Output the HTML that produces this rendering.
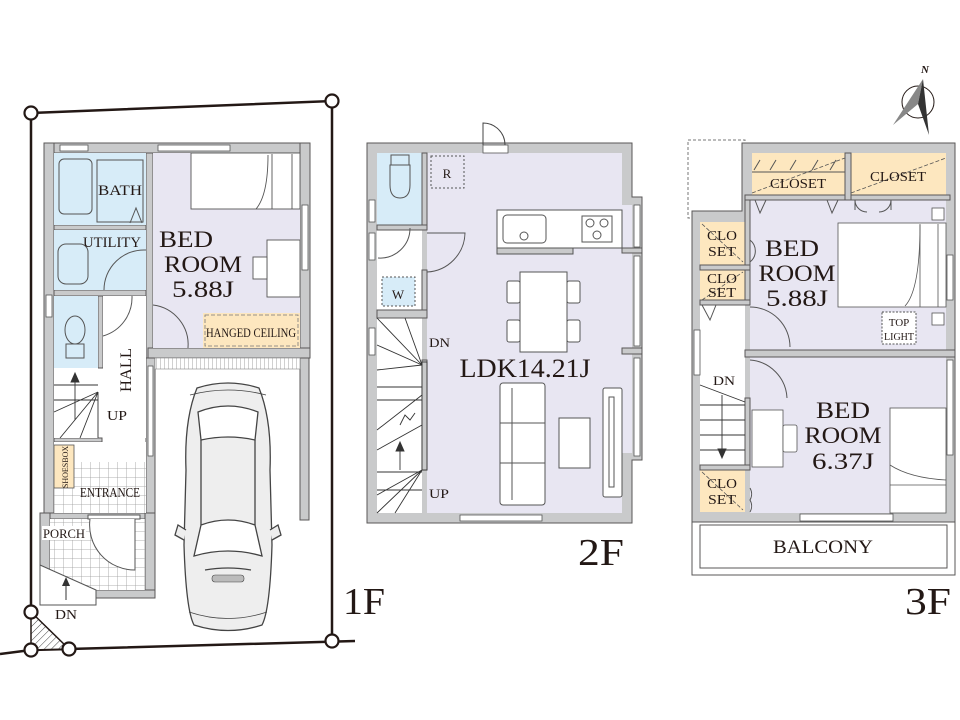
<!DOCTYPE html>
<html><head><meta charset="utf-8"><style>
html,body{margin:0;padding:0;background:#fff;}
svg{display:block;}
text{font-family:"Liberation Serif",serif;fill:#231815;}
</style></head><body>
<svg width="960" height="720" viewBox="0 0 960 720" xmlns="http://www.w3.org/2000/svg">
<defs>
<pattern id="tile" width="9" height="9" patternUnits="userSpaceOnUse"><rect width="9" height="9" fill="#fff"/><path d="M0 0H9M0 0V9" stroke="#999" stroke-width="0.8"/></pattern>
<pattern id="hatch" width="5" height="5" patternUnits="userSpaceOnUse" patternTransform="rotate(45)"><rect width="5" height="5" fill="#fff"/><path d="M0 0V5" stroke="#444" stroke-width="1"/></pattern>
<pattern id="vstripe" width="4" height="10" patternUnits="userSpaceOnUse"><rect width="4" height="10" fill="#fff"/><path d="M0 0V10" stroke="#888" stroke-width="0.8"/></pattern>
</defs>

<!-- ========== 1F ========== -->
<g stroke="#231815" stroke-width="2.5" fill="none">
<path d="M31 113 L332 101 L332 641"/>
<path d="M31 113 L31 612"/>
<path d="M0 654 L31 650 L69 649 L355 641"/>
</g>
<path d="M31 612 L31 650 L69 649 Z" fill="url(#hatch)" stroke="#231815" stroke-width="1.5"/>
<g fill="#fff" stroke="#231815" stroke-width="2.2">
<circle cx="31" cy="113" r="6.5"/><circle cx="332" cy="101" r="6.5"/>
<circle cx="31" cy="612" r="6.5"/><circle cx="31" cy="650" r="6.5"/><circle cx="69" cy="649" r="6.5"/><circle cx="332" cy="641" r="6.5"/>
</g>

<g fill="#c9cacb" stroke="#595757" stroke-width="1">
<rect x="44" y="143" width="266" height="10"/>
<rect x="44" y="143" width="10" height="370"/>
<rect x="300" y="143" width="10" height="215"/>
<rect x="146" y="153" width="7" height="205"/>
<rect x="148" y="348" width="162" height="10"/>
<rect x="300" y="358" width="9" height="162"/>
<rect x="54" y="225" width="92" height="5"/>
<rect x="54" y="290" width="92" height="6"/>
<rect x="98" y="296" width="5" height="72"/>
<rect x="146" y="358" width="9" height="160"/>
<rect x="54" y="438" width="48" height="4"/>
<rect x="40" y="513" width="115" height="6"/>
<rect x="40" y="513" width="10" height="92"/>
<rect x="145" y="513" width="10" height="83"/>
<rect x="96" y="590" width="59" height="8"/>
</g>
<rect x="54" y="153" width="92" height="72" fill="#d7ecf8"/>
<rect x="54" y="230" width="92" height="60" fill="#d7ecf8"/>
<rect x="54" y="296" width="44" height="72" fill="#d7ecf8"/>
<rect x="153" y="153" width="147" height="195" fill="#e8e6f2"/>
<rect x="203" y="313" width="97" height="35" fill="#fde7bf"/>
<rect x="103" y="296" width="43" height="142" fill="#fff"/>
<rect x="54" y="368" width="44" height="70" fill="#fff"/>
<rect x="54" y="462" width="92" height="51" fill="url(#tile)"/>
<rect x="54" y="442" width="92" height="20" fill="#fff"/>
<rect x="50" y="519" width="95" height="71" fill="url(#tile)"/>
<rect x="155" y="358" width="145" height="11" fill="url(#vstripe)" stroke="#888" stroke-width="0.6"/>
<rect x="54" y="445" width="20" height="43" fill="#fde7bf" stroke="#555" stroke-width="0.8"/>
<g fill="#fff" stroke="#555" stroke-width="0.8">
<rect x="60" y="145" width="28" height="6"/><rect x="158" y="145" width="72" height="6"/>
<rect x="302" y="205" width="6" height="65"/><rect x="46" y="295" width="6" height="22"/>
<rect x="148" y="366" width="5" height="90"/>
</g>
<g fill="none" stroke="#555" stroke-width="1">
<rect x="59" y="159" width="33" height="55" rx="5"/>
<rect x="97" y="160" width="46" height="62"/>
<rect x="58" y="244" width="30" height="40" rx="8"/>
<ellipse cx="75" cy="330" rx="10" ry="14"/><rect x="66" y="344" width="18" height="14"/>
<path d="M130 223 L136 208 L142 223"/>
<path d="M104 290 A40 40 0 0 1 146 250"/><path d="M103 336 A40 40 0 0 0 132 296"/>
<path d="M153 305 A40 40 0 0 1 188 348"/>
</g>
<g fill="#fff" stroke="#555" stroke-width="0.9">
<rect x="191" y="153" width="109" height="56"/><path d="M272 154 V209 M292 154 V209"/><path d="M268 155 Q268 195 256 209" fill="none"/>
<rect x="267" y="240" width="33" height="57"/><rect x="253" y="257" width="14" height="22"/>
</g>
<path d="M205 315 H298 V346 H205 Z" fill="none" stroke="#777" stroke-width="0.8" stroke-dasharray="4 2"/>
<text x="186" y="247" font-size="23" text-anchor="middle" textLength="54" lengthAdjust="spacingAndGlyphs">BED</text>
<text x="203" y="272" font-size="23" text-anchor="middle" textLength="78" lengthAdjust="spacingAndGlyphs">ROOM</text>
<text x="203" y="297" font-size="23" text-anchor="middle" textLength="62" lengthAdjust="spacingAndGlyphs">5.88J</text>
<text x="120" y="195" font-size="15" text-anchor="middle" textLength="44" lengthAdjust="spacingAndGlyphs">BATH</text>
<text x="112" y="247" font-size="15" text-anchor="middle" textLength="58" lengthAdjust="spacingAndGlyphs">UTILITY</text>
<text x="251" y="337" font-size="13" text-anchor="middle" textLength="90" lengthAdjust="spacingAndGlyphs">HANGED CEILING</text>
<text transform="translate(131,370) rotate(-90)" font-size="16" text-anchor="middle" textLength="44" lengthAdjust="spacingAndGlyphs">HALL</text>
<g stroke="#333" stroke-width="0.9" fill="none">
<path d="M54 385 H98 M54 400 H98"/>
<path d="M98 392 L54 412 M98 392 L60 438 M98 392 L80 438 M98 392 L98 438"/>
<path d="M75 420 V376"/><path d="M71 382 L75 373 L79 382Z" fill="#333"/>
</g>
<text x="107" y="420" font-size="14" textLength="20" lengthAdjust="spacingAndGlyphs">UP</text>
<text transform="translate(68,467) rotate(-90)" font-size="8" text-anchor="middle">SHOESBOX</text>
<text x="80" y="497" font-size="14" textLength="60" lengthAdjust="spacingAndGlyphs">ENTRANCE</text>
<rect x="42" y="526" width="44" height="14" fill="#fff"/>
<text x="43" y="538" font-size="13" textLength="42" lengthAdjust="spacingAndGlyphs">PORCH</text>
<rect x="88" y="515" width="52" height="4" fill="#fff" stroke="#555"/>
<path d="M90 519 A45 45 0 0 0 135 570 L135 519" fill="#fff" stroke="#555"/>
<path d="M40 565 L96 590 V605 H40 Z" fill="#fff" stroke="#555"/>
<path d="M66 600 V580" stroke="#333"/><path d="M62 586 L66 577 L70 586Z" fill="#333"/>
<text x="55" y="619" font-size="14" textLength="22" lengthAdjust="spacingAndGlyphs">DN</text>
<g stroke="#444" stroke-width="1.3">
<path d="M197 388 Q228 378 259 388 Q272 420 270 470 L272 545 Q270 610 262 625 Q228 636 194 625 Q186 610 184 545 L186 470 Q184 420 197 388Z" fill="#eeeeee"/>
<path d="M198 412 Q228 400 258 412 L255 440 Q228 434 201 440 Z" fill="#fff"/>
<path d="M201 525 Q228 515 255 525 L262 556 Q228 546 194 556 Z" fill="#fff"/>
<path d="M205 570 Q228 566 251 570" fill="none"/>
<path d="M184 540 L175 535 L178 525 L186 530" fill="#eee"/><path d="M272 540 L281 535 L278 525 L270 530" fill="#eee"/>
<path d="M201 440 L201 525 M255 440 L255 525" fill="none"/>
<path d="M190 395 Q228 385 266 395 M189 612 Q228 625 267 612" fill="none" stroke-width="0.8"/>
<rect x="212" y="575" width="32" height="7" rx="3" fill="#bbb" stroke-width="0.6"/>
</g>
<text x="343" y="614" font-size="38" textLength="42" lengthAdjust="spacingAndGlyphs">1F</text>

<!-- ========== 2F ========== -->
<g fill="#c9cacb" stroke="#595757" stroke-width="1">
<path d="M367 143 H632 V197 H642 V460 H632 V523 H367 Z"/>
</g>
<rect x="427" y="153" width="195" height="360" fill="#e8e6f2"/>
<rect x="622" y="205" width="10" height="248" fill="#e8e6f2"/>
<rect x="377" y="153" width="45" height="72" fill="#d7ecf8"/>
<rect x="377" y="230" width="45" height="80" fill="#fff"/>
<rect x="382" y="277" width="33" height="29" fill="#d7ecf8" stroke="#555" stroke-dasharray="2 2"/>
<rect x="377" y="318" width="45" height="195" fill="#fff"/>
<g fill="#c9cacb" stroke="#595757" stroke-width="1">
<rect x="422" y="153" width="5" height="72"/><rect x="377" y="225" width="50" height="5"/>
<rect x="422" y="270" width="5" height="43"/><rect x="377" y="310" width="50" height="8"/>
<rect x="422" y="360" width="5" height="110"/>
<rect x="622" y="248" width="20" height="5"/><rect x="622" y="348" width="20" height="6"/>
</g>
<g fill="#fff" stroke="#555" stroke-width="0.8">
<rect x="483" y="145" width="25" height="8"/>
<rect x="369" y="200" width="6" height="22"/><rect x="369" y="233" width="6" height="27"/><rect x="369" y="328" width="6" height="27"/>
<rect x="634" y="205" width="6" height="42"/><rect x="634" y="256" width="6" height="90"/><rect x="634" y="358" width="6" height="98"/>
<rect x="460" y="515" width="82" height="6"/>
</g>
<path d="M483 145 V123 A22 22 0 0 1 505 145" fill="none" stroke="#444" stroke-width="1"/>
<g fill="none" stroke="#555" stroke-width="1">
<rect x="391" y="155" width="18" height="10"/><path d="M390 165 H410 V185 Q410 198 400 198 Q390 198 390 185 Z"/>
<path d="M378 258 A30 30 0 0 0 410 228"/><path d="M427 272 A40 40 0 0 0 465 233 H427"/>
</g>
<rect x="431" y="156" width="33" height="32" fill="none" stroke="#555" stroke-dasharray="2 2"/>
<text x="447" y="178" font-size="13" text-anchor="middle">R</text>
<text x="398" y="299" font-size="13" text-anchor="middle">W</text>
<g stroke="#555" stroke-width="1">
<rect x="497" y="210" width="125" height="38" fill="#fff"/>
<rect x="497" y="248" width="76" height="6" fill="#c9cacb"/>
<rect x="503" y="215" width="43" height="28" rx="4" fill="#fff"/>
<circle cx="524" cy="236" r="4" fill="#fff"/>
<rect x="582" y="216" width="30" height="26" fill="#fff"/>
<circle cx="590" cy="223" r="4" fill="none"/><circle cx="604" cy="223" r="4" fill="none"/><circle cx="597" cy="235" r="4" fill="none"/>
</g>
<g fill="#fff" stroke="#555" stroke-width="1">
<rect x="520" y="272" width="47" height="80"/>
<rect x="507" y="281" width="13" height="22" rx="2"/><rect x="507" y="320" width="13" height="22" rx="2"/>
<rect x="567" y="281" width="13" height="22" rx="2"/><rect x="567" y="320" width="13" height="22" rx="2"/>
<rect x="500" y="383" width="45" height="122" rx="3"/>
<path d="M500 423 H545 M500 463 H545 M512 388 V500"/>
<rect x="559" y="418" width="31" height="50"/>
<rect x="603" y="388" width="19" height="109" rx="2"/><rect x="609" y="397" width="5" height="90"/>
</g>
<text x="525" y="377" font-size="26" text-anchor="middle" textLength="131" lengthAdjust="spacingAndGlyphs">LDK14.21J</text>
<g stroke="#333" stroke-width="0.9" fill="none">
<rect x="422" y="362" width="5" height="108" fill="#c9cacb"/>
<path d="M377 318 L422 365 M405 318 L422 365 M377 345 L422 365 M377 370 L422 365"/>
<path d="M377 387 H422 M377 400 H422"/>
<path d="M377 430 L422 395 M377 450 L422 425"/>
<path d="M377 472 H422 M377 490 H422"/>
<path d="M377 513 L422 470 M395 513 L422 470 M377 495 L422 470"/>
<path d="M400 470 V445"/><path d="M396 451 L400 442 L404 451Z" fill="#333"/>
<path d="M400 425 L405 415 L410 420 L415 413" />
</g>
<text x="429" y="347" font-size="13" textLength="21" lengthAdjust="spacingAndGlyphs">DN</text>
<text x="429" y="498" font-size="13" textLength="20" lengthAdjust="spacingAndGlyphs">UP</text>
<text x="578" y="565" font-size="38" textLength="46" lengthAdjust="spacingAndGlyphs">2F</text>

<!-- ========== 3F ========== -->
<rect x="688" y="140" width="57" height="78" fill="#fff" stroke="#777" stroke-dasharray="3 2"/>
<g fill="#c9cacb" stroke="#595757" stroke-width="1">
<path d="M742 143 H955 V522 H692 V211 H742 Z"/>
</g>
<rect x="692" y="522" width="263" height="53" fill="#fff" stroke="#595757"/>
<rect x="700" y="525" width="247" height="43" fill="#fff" stroke="#595757"/>
<text x="823" y="553" font-size="19" text-anchor="middle" textLength="100" lengthAdjust="spacingAndGlyphs">BALCONY</text>
<rect x="750" y="198" width="196" height="152" fill="#e8e6f2"/>
<rect x="750" y="357" width="196" height="156" fill="#e8e6f2"/>
<rect x="752" y="153" width="93" height="42" fill="#fde7bf"/>
<rect x="851" y="153" width="95" height="42" fill="#fde7bf"/>
<rect x="700" y="222" width="45" height="43" fill="#fde7bf"/>
<rect x="700" y="270" width="45" height="32" fill="#fde7bf"/>
<rect x="700" y="470" width="45" height="42" fill="#fde7bf"/>
<rect x="700" y="302" width="45" height="163" fill="#fff"/>
<g fill="none" stroke="#555" stroke-width="0.8" stroke-dasharray="4 2">
<path d="M752 193 L845 158 M851 193 L946 158 M702 224 L743 262 M702 300 L743 272 M702 472 L743 510"/>
</g>
<g stroke="#555" stroke-width="1" fill="none">
<path d="M752 172 H845 M754 170 L760 160 M770 170 L776 160 M790 170 L796 160 M812 170 L818 160 M830 170 L836 160"/>
<path d="M755 200 L760 213 L766 200 M827 200 L832 213 L838 200 M702 305 L710 320 L716 305"/>
<path d="M855 200 A12 12 0 0 0 867 212 M891 200 A12 12 0 0 1 879 212 M855 200 V210 M891 200 V210"/>
<path d="M750 240 A14 14 0 0 1 750 262"/><path d="M750 488 A12 12 0 0 1 750 500 A12 12 0 0 1 750 512"/>
<path d="M750 307 A40 40 0 0 1 790 347"/><path d="M750 360 A40 40 0 0 1 787 398"/>
</g>
<g fill="#c9cacb" stroke="#595757" stroke-width="1">
<rect x="745" y="195" width="205" height="5"/><rect x="745" y="200" width="5" height="102"/>
<rect x="700" y="265" width="50" height="5"/><rect x="700" y="300" width="50" height="5"/>
<rect x="745" y="350" width="210" height="7"/><rect x="745" y="398" width="5" height="72"/>
<rect x="700" y="465" width="50" height="5"/><rect x="845" y="153" width="6" height="47"/>
</g>
<g fill="#fff" stroke="#555" stroke-width="0.8">
<rect x="947" y="255" width="6" height="45"/><rect x="947" y="360" width="6" height="95"/>
<rect x="694" y="330" width="6" height="45"/><rect x="800" y="514" width="93" height="7"/>
<rect x="838" y="223" width="108" height="84"/><path d="M920 224 V307 M938 224 V307"/><path d="M920 225 Q920 290 905 306" fill="none"/>
<rect x="932" y="208" width="12" height="12"/><rect x="932" y="313" width="12" height="12"/>
<rect x="890" y="408" width="56" height="105"/><path d="M890 485 H946"/><path d="M890 465 Q910 478 946 480" fill="none"/>
<rect x="752" y="410" width="31" height="57"/><rect x="783" y="425" width="14" height="27" rx="2"/>
</g>
<rect x="882" y="312" width="34" height="32" fill="#fff" stroke="#555" stroke-dasharray="2 1.5"/>
<text x="899" y="326" font-size="11" text-anchor="middle">TOP</text>
<text x="899" y="340" font-size="11" text-anchor="middle" textLength="30" lengthAdjust="spacingAndGlyphs">LIGHT</text>
<g stroke="#333" stroke-width="0.9" fill="none">
<path d="M700 385 L745 402 M700 405 H745 M700 420 H745 M700 435 H745 M700 450 H745"/>
<path d="M722 395 V455"/><path d="M718 449 L722 458 L726 449Z" fill="#333"/>
</g>
<text x="713" y="385" font-size="13" textLength="22" lengthAdjust="spacingAndGlyphs">DN</text>
<g font-size="14" text-anchor="middle">
<text x="722" y="240" textLength="30" lengthAdjust="spacingAndGlyphs">CLO</text><text x="722" y="256" textLength="28" lengthAdjust="spacingAndGlyphs">SET</text>
<text x="722" y="283" textLength="30" lengthAdjust="spacingAndGlyphs">CLO</text><text x="722" y="297" textLength="28" lengthAdjust="spacingAndGlyphs">SET</text>
<text x="722" y="488" textLength="30" lengthAdjust="spacingAndGlyphs">CLO</text><text x="722" y="504" textLength="28" lengthAdjust="spacingAndGlyphs">SET</text>
<text x="798" y="188" textLength="56" lengthAdjust="spacingAndGlyphs">CLOSET</text>
<text x="898" y="181" textLength="56" lengthAdjust="spacingAndGlyphs">CLOSET</text>
</g>
<g font-size="23" text-anchor="middle">
<text x="792" y="256" textLength="54" lengthAdjust="spacingAndGlyphs">BED</text>
<text x="797" y="281" textLength="77" lengthAdjust="spacingAndGlyphs">ROOM</text>
<text x="797" y="306" textLength="62" lengthAdjust="spacingAndGlyphs">5.88J</text>
<text x="843" y="418" textLength="54" lengthAdjust="spacingAndGlyphs">BED</text>
<text x="843" y="443" textLength="77" lengthAdjust="spacingAndGlyphs">ROOM</text>
<text x="843" y="469" textLength="62" lengthAdjust="spacingAndGlyphs">6.37J</text>
</g>
<text x="905" y="614" font-size="38" textLength="46" lengthAdjust="spacingAndGlyphs">3F</text>
<circle cx="918" cy="102" r="16" fill="none" stroke="#231815" stroke-width="1"/>
<path d="M923 79 L893 125 L918 104 Z" fill="#888"/>
<path d="M923 79 L918 104 L929 135 Z" fill="#333"/>
<text x="921" y="73" font-size="11" font-style="italic" font-weight="bold" font-family="Liberation Sans, sans-serif">N</text>
</svg>
</body></html>
